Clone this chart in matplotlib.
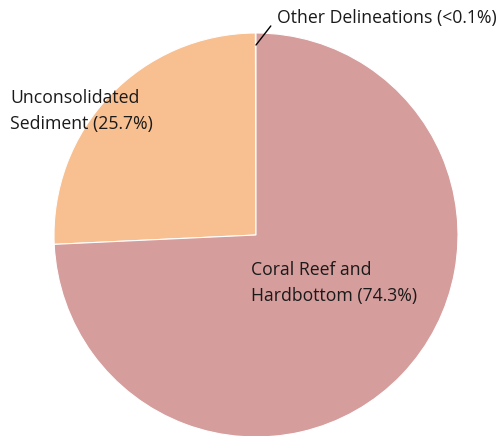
import matplotlib.pyplot as plt

labels = ['Other Delineations (<0.1%)', 'Unconsolidated\nSediment (25.7%)', 'Coral Reef and\nHardbottom (74.3%)']
values = [0.05, 25.7, 74.3]
colors = ['#9a9a9a', '#F8BF91', '#D59D9C']

plt.rcParams['font.family'] = ['Open Sans', 'DejaVu Sans']

fig = plt.figure(figsize=(4.99, 4.36), dpi=100)
ax = fig.add_axes([0, 0, 1, 1])
ax.pie(values, colors=colors, startangle=90, counterclock=True,
       center=(256, 201), radius=202,
       wedgeprops=dict(edgecolor='white', linewidth=0.8))
ax.set_xlim(0, 499)
ax.set_ylim(0, 436)
ax.axis('off')

fs = 12.7
ax.annotate(labels[0], xy=(256, 391), xytext=(277, 418), ha='left', va='center',
            fontsize=fs, color='#1a1a1a',
            arrowprops=dict(arrowstyle='-', color='black', lw=1, shrinkA=4, shrinkB=0,
                            relpos=(0, 0.5)))
ax.text(10, 325, labels[1], ha='left', va='center', fontsize=fs, color='#1a1a1a', linespacing=1.6)
ax.text(251, 153, labels[2], ha='left', va='center', fontsize=fs, color='#1a1a1a', linespacing=1.6)

fig.savefig('out.png', dpi=100)
